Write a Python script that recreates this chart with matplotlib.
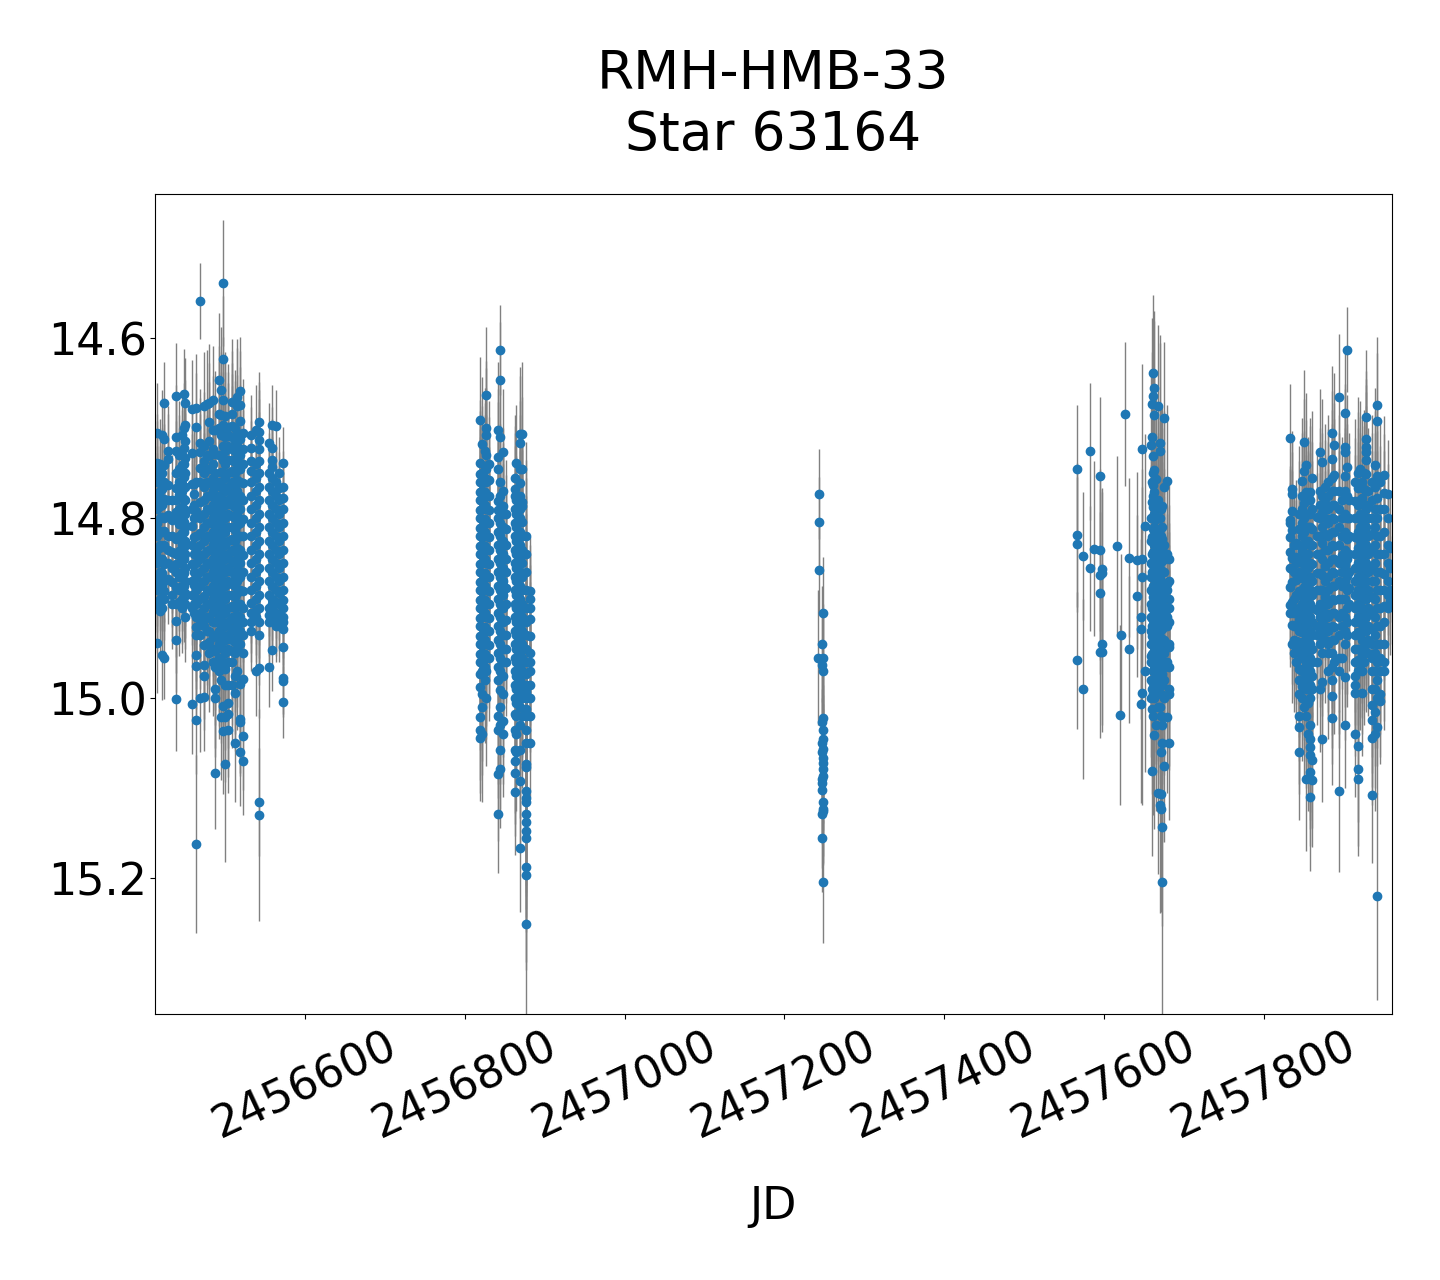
import numpy as np
import matplotlib
matplotlib.use("Agg")
import matplotlib.pyplot as plt

# season 1, one list of magnitudes per night
s1_nights = [2456414.6, 2456418, 2456421, 2456424, 2456428.3, 2456433.3, 2456439, 2456442, 2456445.8, 2456448, 2456450.4,
             2456459, 2456461.7, 2456464, 2456469, 2456474, 2456478, 2456480.4, 2456485.4, 2456488, 2456493, 2456495.4,
             2456498, 2456500.4, 2456504, 2456508.4, 2456512.5, 2456515.4, 2456519, 2456523, 2456533, 2456539, 2456543,
             2456555.4, 2456558.4, 2456563.8, 2456568, 2456573]
s1_errs = [0.055, 0.05, 0.05, 0.045, 0.05, 0.05, 0.058, 0.06, 0.05, 0.05, 0.05,
           0.055, 0.06, 0.06, 0.06, 0.06, 0.06, 0.065, 0.06, 0.065, 0.075, 0.07,
           0.07, 0.072, 0.07, 0.07, 0.065, 0.065, 0.06, 0.06, 0.045, 0.05, 0.055,
           0.045, 0.045, 0.04, 0.04, 0.04]
s1_mags = [
    [14.705, 14.739, 14.76, 14.775, 14.79, 14.805, 14.82, 14.835, 14.85, 14.865, 14.88, 14.895, 14.939],
    [14.74, 14.77, 14.80, 14.83, 14.86, 14.89],
    [14.708, 14.75, 14.785, 14.815, 14.845, 14.875, 14.90, 14.952],
    [14.672, 14.712, 14.76, 14.80, 14.83, 14.87, 14.89, 14.956],
    [14.725, 14.734, 14.78, 14.82, 14.85],
    [14.78, 14.82, 14.855, 14.885, 14.895],
    [14.664, 14.71, 14.726, 14.75, 14.78, 14.80, 14.84, 14.86, 14.914, 14.935, 15.001],
    [14.73, 14.76, 14.79, 14.82, 14.85, 14.88],
    [14.708, 14.73, 14.75, 14.77, 14.80, 14.83, 14.86, 14.89, 14.90],
    [14.662, 14.70, 14.74, 14.765, 14.79, 14.815, 14.845, 14.875],
    [14.672, 14.697, 14.714, 14.75, 14.78, 14.81, 14.84, 14.87, 14.895, 14.91],
    [14.679, 14.728, 14.79, 14.83, 14.87, 14.90, 15.007],
    [14.762, 14.773, 14.80, 14.84, 14.86, 14.885, 14.905],
    [14.678, 14.699, 14.76, 14.82, 14.85, 14.88, 14.91, 14.93, 14.952, 14.964, 15.024],
    [14.717, 14.727, 14.76, 14.80, 14.83, 14.86, 14.89, 14.905, 14.93, 15.0],
    [14.675, 14.72, 14.75, 14.78, 14.81, 14.84, 14.87, 14.90, 14.92, 14.963, 14.975, 14.999],
    [14.673, 14.73, 14.76, 14.79, 14.82, 14.85, 14.88, 14.91, 14.94],
    [14.672, 14.693, 14.714, 14.745, 14.775, 14.805, 14.835, 14.865, 14.895, 14.925, 14.95],
    [14.669, 14.702, 14.74, 14.77, 14.80, 14.83, 14.86, 14.89, 14.915, 14.945, 14.96],
    [14.702, 14.75, 14.78, 14.81, 14.84, 14.87, 14.90, 14.93, 14.965, 14.99, 15.0],
    [14.647, 14.70, 14.76, 14.79, 14.82, 14.85, 14.88, 14.91, 14.94, 14.97],
    [14.658, 14.686, 14.73, 14.765, 14.80, 14.83, 14.86, 14.89, 14.92, 14.98, 15.021],
    [14.669, 14.623, 14.539, 14.72, 14.75, 14.78, 14.81, 14.84, 14.87, 14.90, 14.93, 14.96, 15.009, 15.037],
    [14.687, 14.71, 14.74, 14.77, 14.80, 14.83, 14.86, 14.89, 14.92, 14.95, 14.986, 15.021],
    [14.699, 14.72, 14.75, 14.78, 14.81, 14.84, 14.87, 14.90, 14.93, 14.96, 14.986, 15.006, 15.018, 15.036],
    [14.671, 14.684, 14.71, 14.735, 14.76, 14.785, 14.81, 14.835, 14.86, 14.885, 14.91, 14.935, 14.96, 14.985],
    [14.70, 14.725, 14.75, 14.775, 14.80, 14.825, 14.85, 14.875, 14.90, 14.925, 14.95, 14.975, 14.994, 15.05],
    [14.666, 14.676, 14.72, 14.745, 14.77, 14.795, 14.82, 14.845, 14.87, 14.895, 14.92, 14.945, 14.97],
    [14.659, 14.674, 14.692, 14.73, 14.76, 14.79, 14.82, 14.85, 14.88, 14.91, 14.94, 14.984, 15.023, 15.027, 15.06],
    [14.706, 14.74, 14.78, 14.82, 14.86, 14.90, 14.93, 14.95, 14.979, 15.042, 15.07],
    [14.708, 14.722, 14.737, 14.76, 14.79, 14.82, 14.85, 14.88, 14.905, 14.925],
    [14.702, 14.74, 14.77, 14.80, 14.83, 14.86, 14.89, 14.91, 14.97],
    [14.693, 14.704, 14.713, 14.723, 14.75, 14.78, 14.81, 14.84, 14.87, 14.90, 14.93, 14.967],
    [14.717, 14.75, 14.78, 14.81, 14.84, 14.87, 14.90, 14.915, 14.965],
    [14.697, 14.722, 14.735, 14.743, 14.77, 14.80, 14.83, 14.86, 14.89, 14.90, 14.947],
    [14.698, 14.76, 14.79, 14.82, 14.85, 14.88, 14.905, 14.92],
    [14.75, 14.78, 14.81, 14.84, 14.87, 14.895, 14.92],
    [14.739, 14.765, 14.79, 14.82, 14.85, 14.88, 14.90, 14.915, 14.923, 14.943, 14.978, 14.981, 15.004],
]
# the packed middle of each season 1 night
s1_more = [
    [14.747, 14.783, 14.812, 14.843, 14.872],
    [14.752, 14.787, 14.816, 14.847, 14.874, 14.903],
    [14.768, 14.799, 14.832, 14.861, 14.889],
    [14.741, 14.779, 14.814, 14.851, 14.881],
    [14.763, 14.797, 14.836, 14.868],
    [14.802, 14.838, 14.871],
    [14.767, 14.793, 14.823, 14.851, 14.877, 14.896],
    [14.746, 14.774, 14.807, 14.837, 14.866, 14.893],
    [14.741, 14.762, 14.788, 14.817, 14.846, 14.875],
    [14.722, 14.754, 14.779, 14.804, 14.832, 14.861, 14.888],
    [14.733, 14.766, 14.795, 14.826, 14.856, 14.883],
    [14.762, 14.809, 14.851, 14.886],
    [14.786, 14.821, 14.851, 14.874, 14.896],
    [14.792, 14.837, 14.867, 14.896, 14.921],
    [14.744, 14.782, 14.817, 14.846, 14.876, 14.918],
    [14.737, 14.766, 14.796, 14.826, 14.856, 14.887, 14.911, 14.941],
    [14.746, 14.776, 14.806, 14.837, 14.866, 14.896, 14.925],
    [14.731, 14.761, 14.791, 14.821, 14.851, 14.881, 14.911, 14.938],
    [14.723, 14.756, 14.786, 14.816, 14.846, 14.876, 14.904, 14.932],
    [14.729, 14.766, 14.796, 14.826, 14.856, 14.886, 14.916, 14.948],
    [14.684, 14.73, 14.776, 14.806, 14.836, 14.866, 14.896, 14.926, 14.956],
    [14.708, 14.749, 14.783, 14.816, 14.846, 14.876, 14.906, 14.936, 14.962],
    [14.697, 14.736, 14.766, 14.796, 14.826, 14.856, 14.886, 14.916, 14.946],
    [14.699, 14.726, 14.756, 14.786, 14.816, 14.846, 14.876, 14.906, 14.936, 14.968],
    [14.708, 14.736, 14.766, 14.796, 14.826, 14.856, 14.886, 14.916, 14.946],
    [14.698, 14.723, 14.748, 14.773, 14.798, 14.823, 14.848, 14.873, 14.898, 14.923, 14.948],
    [14.713, 14.738, 14.763, 14.788, 14.813, 14.838, 14.863, 14.888, 14.913, 14.938],
    [14.706, 14.733, 14.758, 14.783, 14.808, 14.833, 14.858, 14.883, 14.908, 14.933],
    [14.712, 14.746, 14.776, 14.806, 14.836, 14.866, 14.896, 14.926],
    [14.723, 14.761, 14.801, 14.841, 14.881, 14.916],
    [14.748, 14.775, 14.806, 14.836, 14.866, 14.894, 14.915],
    [14.756, 14.786, 14.816, 14.846, 14.876, 14.902],
    [14.737, 14.766, 14.796, 14.826, 14.856, 14.886, 14.916],
    [14.766, 14.796, 14.826, 14.856, 14.886, 14.908],
    [14.755, 14.785, 14.815, 14.846, 14.875, 14.896],
    [14.775, 14.805, 14.836, 14.866, 14.893, 14.913],
    [14.767, 14.796, 14.826, 14.856, 14.883, 14.908],
    [14.778, 14.806, 14.836, 14.866, 14.891, 14.91],
]

# season 2
s2_nights = [2456818.8, 2456821.7, 2456825, 2456827, 2456830, 2456841.7, 2456843.8, 2456848, 2456852,
             2456862.5, 2456864.6, 2456868.8, 2456871.7, 2456877, 2456882]
s2_errs = [0.07, 0.075, 0.07, 0.075, 0.07, 0.075, 0.065, 0.07, 0.06,
           0.07, 0.065, 0.075, 0.08, 0.105, 0.06]
s2_mags = [
    [14.691, 14.739, 14.76, 14.78, 14.80, 14.82, 14.84, 14.86, 14.88, 14.90, 14.92, 14.94, 14.96, 14.988, 15.021, 15.036, 15.044],
    [14.718, 14.75, 14.77, 14.79, 14.81, 14.83, 14.85, 14.87, 14.89, 14.91, 14.93, 14.95, 14.97, 14.995, 15.01, 15.04],
    [14.725, 14.755, 14.785, 14.815, 14.845, 14.875, 14.905, 14.935, 14.965, 14.98],
    [14.663, 14.70, 14.708, 14.73, 14.76, 14.79, 14.82, 14.85, 14.88, 14.91, 14.94, 14.97, 15.0],
    [14.74, 14.775, 14.805, 14.835, 14.865, 14.895, 14.925, 14.955],
    [14.702, 14.732, 14.746, 14.781, 14.80, 14.83, 14.86, 14.89, 14.92, 14.95, 14.98, 15.02, 15.036, 15.084],
    [14.647, 14.71, 14.76, 14.79, 14.82, 14.85, 14.88, 14.91, 14.94, 14.97, 15.01, 15.03, 15.079, 15.058],
    [14.727, 14.77, 14.787, 14.81, 14.84, 14.87, 14.90, 14.93, 14.96, 14.995, 15.025, 15.04],
    [14.795, 14.83, 14.86, 14.895, 14.93, 14.96],
    [14.755, 14.768, 14.79, 14.82, 14.85, 14.88, 14.91, 14.94, 14.97, 15.0, 15.018, 15.036, 15.058, 15.07, 15.083, 15.104],
    [14.739, 14.78, 14.81, 14.84, 14.87, 14.90, 14.93, 14.96, 14.99, 15.02, 15.04, 15.06],
    [14.707, 14.717, 14.745, 14.775, 14.80, 14.83, 14.86, 14.89, 14.92, 14.95, 14.98, 15.01, 15.03, 15.058, 15.092],
    [14.707, 14.745, 14.782, 14.787, 14.82, 14.85, 14.88, 14.91, 14.94, 14.97, 15.0, 15.02],
    [14.82, 14.86, 14.90, 14.93, 14.96, 14.985, 15.0, 15.02, 15.05, 15.073, 15.077, 15.103, 15.111, 15.115, 15.129, 15.138, 15.148, 15.155, 15.188, 15.197],
    [14.881, 14.89, 14.90, 14.931, 14.97, 14.985, 15.0, 15.02, 15.05],
]
s2_more = [
    [14.751, 14.771, 14.791, 14.811, 14.831, 14.851, 14.871, 14.891, 14.911, 14.931, 14.951, 14.973],
    [14.761, 14.781, 14.801, 14.821, 14.841, 14.861, 14.881, 14.901, 14.921, 14.941, 14.961],
    [14.742, 14.771, 14.801, 14.831, 14.861, 14.891, 14.921, 14.951],
    [14.746, 14.776, 14.806, 14.836, 14.866, 14.896, 14.926, 14.956],
    [14.758, 14.791, 14.821, 14.851, 14.881, 14.911, 14.941],
    [14.791, 14.816, 14.846, 14.876, 14.906, 14.936, 14.966],
    [14.776, 14.806, 14.836, 14.866, 14.896, 14.926, 14.956, 14.991],
    [14.796, 14.826, 14.856, 14.886, 14.916, 14.946, 14.976],
    [14.812, 14.846, 14.878, 14.913, 14.946],
    [14.776, 14.806, 14.836, 14.866, 14.896, 14.926, 14.956, 14.986],
    [14.796, 14.826, 14.856, 14.886, 14.916, 14.946, 14.976, 15.006],
    [14.761, 14.79, 14.816, 14.846, 14.876, 14.906, 14.936, 14.966, 14.996],
    [14.804, 14.836, 14.866, 14.896, 14.926, 14.956, 14.986],
    [14.84, 14.88, 14.916, 14.946, 14.973, 14.993, 15.012, 15.035],
    [14.912, 14.95, 14.96],
]

# season 4 core
s4_nights = [2457659, 2457660.4, 2457661.7, 2457663, 2457665.4, 2457668, 2457669.6, 2457671.7, 2457673, 2457675.4, 2457679, 2457682]
s4_errs = [0.085, 0.095, 0.11, 0.105, 0.095, 0.09, 0.12, 0.115, 0.11, 0.085, 0.085, 0.085]
s4_mags = [
    [14.719, 14.80, 14.85, 14.88, 14.91, 14.94, 14.98, 14.96, 15.0],
    [14.673, 14.71, 14.76, 14.80, 14.84, 14.86, 14.90, 14.92, 14.94, 14.96, 14.99, 15.012, 15.081],
    [14.731, 14.75, 14.775, 14.80, 14.825, 14.85, 14.875, 14.90, 14.925, 14.95, 14.97, 14.995, 15.02],
    [14.686, 14.747, 14.771, 14.781, 14.81, 14.83, 14.855, 14.88, 14.905, 14.93, 14.955, 14.98, 15.0, 15.041],
    [14.757, 14.785, 14.815, 14.84, 14.865, 14.89, 14.915, 14.94, 14.965, 14.99, 15.03],
    [14.676, 14.78, 14.80, 14.83, 14.855, 14.88, 14.905, 14.93, 14.955, 14.98, 15.01, 15.105],
    [14.717, 14.725, 14.80, 14.825, 14.85, 14.875, 14.90, 14.925, 14.95, 14.975, 15.01, 15.119],
    [14.79, 14.82, 14.845, 14.87, 14.895, 14.92, 14.945, 14.97, 14.995, 15.02, 15.06, 15.107, 15.123],
    [14.787, 14.81, 14.835, 14.86, 14.885, 14.91, 14.935, 14.96, 14.985, 15.03, 15.05, 15.143],
    [14.689, 14.766, 14.83, 14.86, 14.89, 14.92, 14.95, 14.98, 15.0, 15.075],
    [14.759, 14.84, 14.88, 14.90, 14.92, 14.96, 15.021],
    [14.846, 14.89, 14.90, 14.94, 14.943, 14.99, 14.995, 15.05],
]
s4_more = [
    [14.826, 14.866, 14.896, 14.925, 14.953],
    [14.782, 14.821, 14.851, 14.881, 14.911, 14.931, 14.951],
    [14.763, 14.788, 14.812, 14.838, 14.863, 14.888, 14.913, 14.938, 14.961, 14.983],
    [14.796, 14.821, 14.843, 14.868, 14.893, 14.918, 14.943, 14.968],
    [14.801, 14.828, 14.853, 14.878, 14.903, 14.928, 14.953, 14.978],
    [14.816, 14.843, 14.868, 14.893, 14.918, 14.943, 14.968],
    [14.812, 14.838, 14.863, 14.888, 14.913, 14.938, 14.963],
    [14.833, 14.858, 14.883, 14.908, 14.933, 14.958, 14.983],
    [14.823, 14.848, 14.873, 14.898, 14.923, 14.948, 14.973],
    [14.845, 14.875, 14.905, 14.935, 14.965],
    [14.873, 14.91, 14.94],
    [14.87, 14.915, 14.965],
]

# season 5
s5_nights = [2457833.3, 2457835.4, 2457837.5, 2457840.4, 2457844.6, 2457848, 2457850.4, 2457853, 2457855.4, 2457858, 2457860.4,
             2457866.7, 2457870.4, 2457873, 2457877, 2457881, 2457885.4, 2457887.5, 2457893.8, 2457898, 2457902, 2457904, 2457907,
             2457914.6, 2457918, 2457920.8, 2457923, 2457925, 2457928, 2457931, 2457935.4, 2457938.8, 2457941.7, 2457946, 2457950, 2457955.4, 2457958.3]
s5_errs = [0.06, 0.065, 0.065, 0.07, 0.075, 0.07, 0.08, 0.08, 0.085, 0.082, 0.075,
           0.07, 0.07, 0.07, 0.07, 0.075, 0.075, 0.08, 0.085, 0.07, 0.07, 0.08, 0.075,
           0.07, 0.085, 0.075, 0.07, 0.07, 0.075, 0.07, 0.075, 0.085, 0.075, 0.07, 0.065, 0.06, 0.06]
s5_mags = [
    [14.711, 14.802, 14.805, 14.821, 14.856, 14.897, 14.906],
    [14.768, 14.773, 14.813, 14.844, 14.871, 14.919, 14.94],
    [14.83, 14.86, 14.89, 14.92, 14.95],
    [14.828, 14.85, 14.885, 14.887, 14.92, 14.945, 14.96],
    [14.795, 14.83, 14.86, 14.90, 14.925, 14.95, 14.98, 14.995, 15.02, 15.032, 15.06],
    [14.759, 14.79, 14.82, 14.85, 14.88, 14.91, 14.94, 14.97, 15.0],
    [14.715, 14.748, 14.80, 14.83, 14.86, 14.89, 14.92, 14.95, 14.98, 15.01],
    [14.741, 14.771, 14.81, 14.84, 14.87, 14.90, 14.93, 14.96, 14.99, 15.02, 15.09],
    [14.795, 14.825, 14.855, 14.885, 14.915, 14.945, 14.975, 15.005, 15.04],
    [14.771, 14.78, 14.81, 14.85, 14.88, 14.91, 14.94, 14.97, 15.0, 15.03, 15.045, 15.054, 15.063, 15.082],
    [14.756, 14.79, 14.83, 14.87, 14.90, 14.93, 14.96, 14.99, 15.069, 15.091],
    [14.799, 14.84, 14.88, 14.92, 14.93, 14.96],
    [14.727, 14.77, 14.80, 14.84, 14.88, 14.91, 14.94, 14.99],
    [14.738, 14.775, 14.81, 14.845, 14.88, 14.915, 14.95, 14.982, 15.045],
    [14.765, 14.80, 14.835, 14.87, 14.905, 14.935],
    [14.76, 14.79, 14.82, 14.85, 14.88, 14.91, 14.94, 14.97, 14.95],
    [14.706, 14.734, 14.77, 14.80, 14.83, 14.86, 14.89, 14.92, 14.95, 14.98, 14.998, 15.022],
    [14.719, 14.752, 14.785, 14.815, 14.845, 14.875, 14.905, 14.935, 14.96],
    [14.77, 14.81, 14.85, 14.89, 14.93, 14.955, 14.97],
    [14.78, 14.82, 14.86, 14.89, 14.92, 14.955],
    [14.683, 14.721, 14.727, 14.77, 14.775, 14.815, 14.835, 14.87, 14.91, 14.94, 14.977, 15.03],
    [14.743, 14.80, 14.845, 14.88, 14.90, 14.93],
    [14.78, 14.82, 14.86, 14.895],
    [14.76, 14.80, 14.84, 14.87, 14.90, 14.93, 14.96, 14.986, 14.994, 15.04],
    [14.75, 14.785, 14.815, 14.85, 14.88, 14.91, 14.945, 14.97, 15.053, 15.079, 15.09],
    [14.745, 14.78, 14.81, 14.84, 14.87, 14.90, 14.93, 14.96],
    [14.76, 14.795, 14.83, 14.865, 14.90, 14.935, 14.97, 14.994],
    [14.75, 14.785, 14.82, 14.855, 14.89, 14.925, 14.96],
    [14.688, 14.712, 14.721, 14.727, 14.735, 14.751, 14.79, 14.83, 14.87, 14.91, 14.94],
    [14.77, 14.80, 14.84, 14.88, 14.92, 14.95],
    [14.76, 14.80, 14.835, 14.87, 14.905, 14.94, 14.97, 15.008, 15.024, 15.044, 15.108],
    [14.741, 14.79, 14.83, 14.87, 14.91, 14.95, 14.99, 15.04],
    [14.674, 14.692, 14.753, 14.80, 14.84, 14.88, 14.92, 14.96, 15.0, 15.032],
    [14.76, 14.82, 14.86, 14.90, 14.94, 14.97, 14.995, 15.003],
    [14.752, 14.79, 14.84, 14.88, 14.915, 14.96, 14.97],
    [14.773, 14.83, 14.87, 14.90],
    [14.833, 14.88, 14.892],
]
s5_more = [
    [14.838, 14.877],
    [14.792, 14.857, 14.893],
    [14.845, 14.905, 14.936],
    [14.843, 14.869, 14.903, 14.937],
    [14.812, 14.847, 14.881, 14.913, 14.938, 14.968],
    [14.776, 14.806, 14.837, 14.867, 14.896, 14.927, 14.956, 14.987],
    [14.783, 14.816, 14.846, 14.877, 14.906, 14.937, 14.967],
    [14.796, 14.826, 14.856, 14.886, 14.916, 14.946, 14.976, 15.005],
    [14.81, 14.84, 14.871, 14.901, 14.931, 14.961, 14.99],
    [14.796, 14.83, 14.866, 14.896, 14.926, 14.956, 14.986],
    [14.812, 14.851, 14.886, 14.916, 14.946, 14.976],
    [14.82, 14.861, 14.902],
    [14.786, 14.82, 14.861, 14.896, 14.926],
    [14.793, 14.828, 14.863, 14.898, 14.932],
    [14.783, 14.818, 14.853, 14.888, 14.92],
    [14.776, 14.806, 14.836, 14.866, 14.896, 14.926],
    [14.755, 14.786, 14.816, 14.846, 14.876, 14.906, 14.936, 14.966],
    [14.77, 14.801, 14.831, 14.861, 14.891, 14.921],
    [14.79, 14.83, 14.87, 14.91],
    [14.80, 14.841, 14.876, 14.906],
    [14.753, 14.796, 14.852, 14.89, 14.925],
    [14.775, 14.823, 14.864, 14.915],
    [14.80, 14.84, 14.878],
    [14.781, 14.821, 14.856, 14.886, 14.916, 14.946, 14.975],
    [14.767, 14.80, 14.833, 14.866, 14.896, 14.927, 14.958],
    [14.763, 14.796, 14.826, 14.856, 14.886, 14.916, 14.946],
    [14.778, 14.813, 14.848, 14.882, 14.918, 14.952],
    [14.768, 14.803, 14.838, 14.873, 14.908, 14.943],
    [14.77, 14.81, 14.85, 14.89, 14.925],
    [14.785, 14.82, 14.86, 14.90, 14.935],
    [14.78, 14.818, 14.853, 14.888, 14.923, 14.955, 14.99],
    [14.766, 14.81, 14.85, 14.89, 14.93, 14.97, 15.015],
    [14.778, 14.82, 14.86, 14.90, 14.94, 14.98],
    [14.79, 14.84, 14.88, 14.92, 14.955],
    [14.772, 14.815, 14.862, 14.898, 14.94],
    [14.80, 14.85, 14.885],
    [14.855],
]

# sparse points where the whisker of each one can be read
single_jd = [2457241.7, 2457243, 2457243, 2457243, 2457248, 2457246.7, 2457248, 2457246.7, 2457248, 2457248, 2457248, 2457246.7,
             2457248, 2457248, 2457248, 2457246.7, 2457248, 2457246.7, 2457248, 2457248, 2457248, 2457248, 2457246.7, 2457246.7,
             2457248, 2457246.7, 2457246.7, 2457246.7, 2457248,
             2457566.7, 2457566.7, 2457566.7, 2457566.7, 2457574, 2457574, 2457583, 2457583, 2457588, 2457594.6, 2457594.6,
             2457594.6, 2457594.6, 2457594.6, 2457597, 2457597, 2457597, 2457597, 2457616.7, 2457626.7, 2457621.7, 2457620.4,
             2457631.7, 2457631.7, 2457641.7, 2457641.7, 2457648, 2457648, 2457648, 2457648, 2457646.7, 2457646.7, 2457646.7,
             2457651.7, 2457651.7,
             2456464, 2456469, 2456488, 2456500.4, 2456543, 2456543,
             2456843.8, 2456841.7, 2456868.8, 2456877,
             2457661.7, 2457663, 2457661.7, 2457673,
             2457941.7, 2457904, 2457858, 2457893.8, 2457893.8]
single_mag = [14.955, 14.773, 14.804, 14.858, 14.906, 14.94, 14.956, 14.963, 14.97, 15.022, 15.036, 15.027,
              15.045, 15.057, 15.067, 15.05, 15.072, 15.06, 15.079, 15.087, 15.116, 15.123, 15.09, 15.094,
              15.204, 15.102, 15.129, 15.156, 15.126,
              14.745, 14.819, 14.829, 14.958, 14.842, 14.99, 14.726, 14.856, 14.834, 14.753, 14.836,
              14.883, 14.863, 14.949, 14.857, 14.861, 14.94, 14.949, 14.831, 14.684, 14.93, 15.019,
              14.844, 14.946, 14.847, 14.887, 14.723, 14.845, 14.865, 14.994, 14.91, 14.923, 15.007,
              14.809, 14.97,
              15.162, 14.559, 15.083, 15.073, 15.115, 15.13,
              14.613, 15.129, 15.167, 15.251,
              14.639, 14.655, 14.664, 15.204,
              15.22, 14.613, 15.11, 15.103, 14.665]
single_err = [0.075, 0.05, 0.05, 0.05, 0.063, 0.064, 0.06, 0.06, 0.06, 0.06, 0.06, 0.06,
              0.06, 0.06, 0.06, 0.06, 0.06, 0.06, 0.06, 0.06, 0.06, 0.06, 0.06, 0.06,
              0.068, 0.06, 0.06, 0.06, 0.06,
              0.071, 0.08, 0.075, 0.076, 0.071, 0.10, 0.076, 0.069, 0.097, 0.087, 0.09,
              0.09, 0.095, 0.095, 0.09, 0.09, 0.09, 0.089, 0.10, 0.08, 0.09, 0.10,
              0.088, 0.082, 0.098, 0.09, 0.094, 0.10, 0.10, 0.125, 0.10, 0.10, 0.11,
              0.102, 0.112,
              0.099, 0.042, 0.062, 0.109, 0.06, 0.118,
              0.05, 0.065, 0.071, 0.11,
              0.087, 0.085, 0.085, 0.148,
              0.115, 0.047, 0.082, 0.09, 0.069]

ticks_x = [2456600, 2456800, 2457000, 2457200, 2457400, 2457600, 2457800]
ticks_y = [14.6, 14.8, 15.0, 15.2]

jd = list(single_jd)
mag = list(single_mag)
err = list(single_err)
for nights, errs, mags, more in [(s1_nights, s1_errs, s1_mags, s1_more), (s2_nights, s2_errs, s2_mags, s2_more),
                                 (s4_nights, s4_errs, s4_mags, s4_more), (s5_nights, s5_errs, s5_mags, s5_more)]:
    for n, e, m, m2 in zip(nights, errs, mags, more):
        jd += [n] * (len(m) + len(m2))
        mag += m + m2
        err += [e] * (len(m) + len(m2))

fig = plt.figure(figsize=(14.4, 12.8), dpi=100)
ax = fig.add_axes([155 / 1440, 1 - 1014 / 1280, 1237 / 1440, 820 / 1280])
ax.errorbar(np.array(jd), np.array(mag), yerr=np.array(err), fmt="o", ms=6, color="tab:blue",
            ecolor="gray", elinewidth=1, capsize=0)
ax.set_xlim(2456412.3, 2457960.5)
ax.set_ylim(15.351, 14.44)
ax.set_xticks(ticks_x)
ax.set_yticks(ticks_y)
ax.ticklabel_format(useOffset=False, style="plain", axis="x")
ax.tick_params(axis="x", labelsize=32, rotation=25)
ax.tick_params(axis="y", labelsize=32, pad=2)
ax.set_xlabel("JD", fontsize=32, labelpad=28)
ax.set_title("RMH-HMB-33\nStar 63164", fontsize=38.4, pad=32)
fig.savefig("out.png", dpi=100)
